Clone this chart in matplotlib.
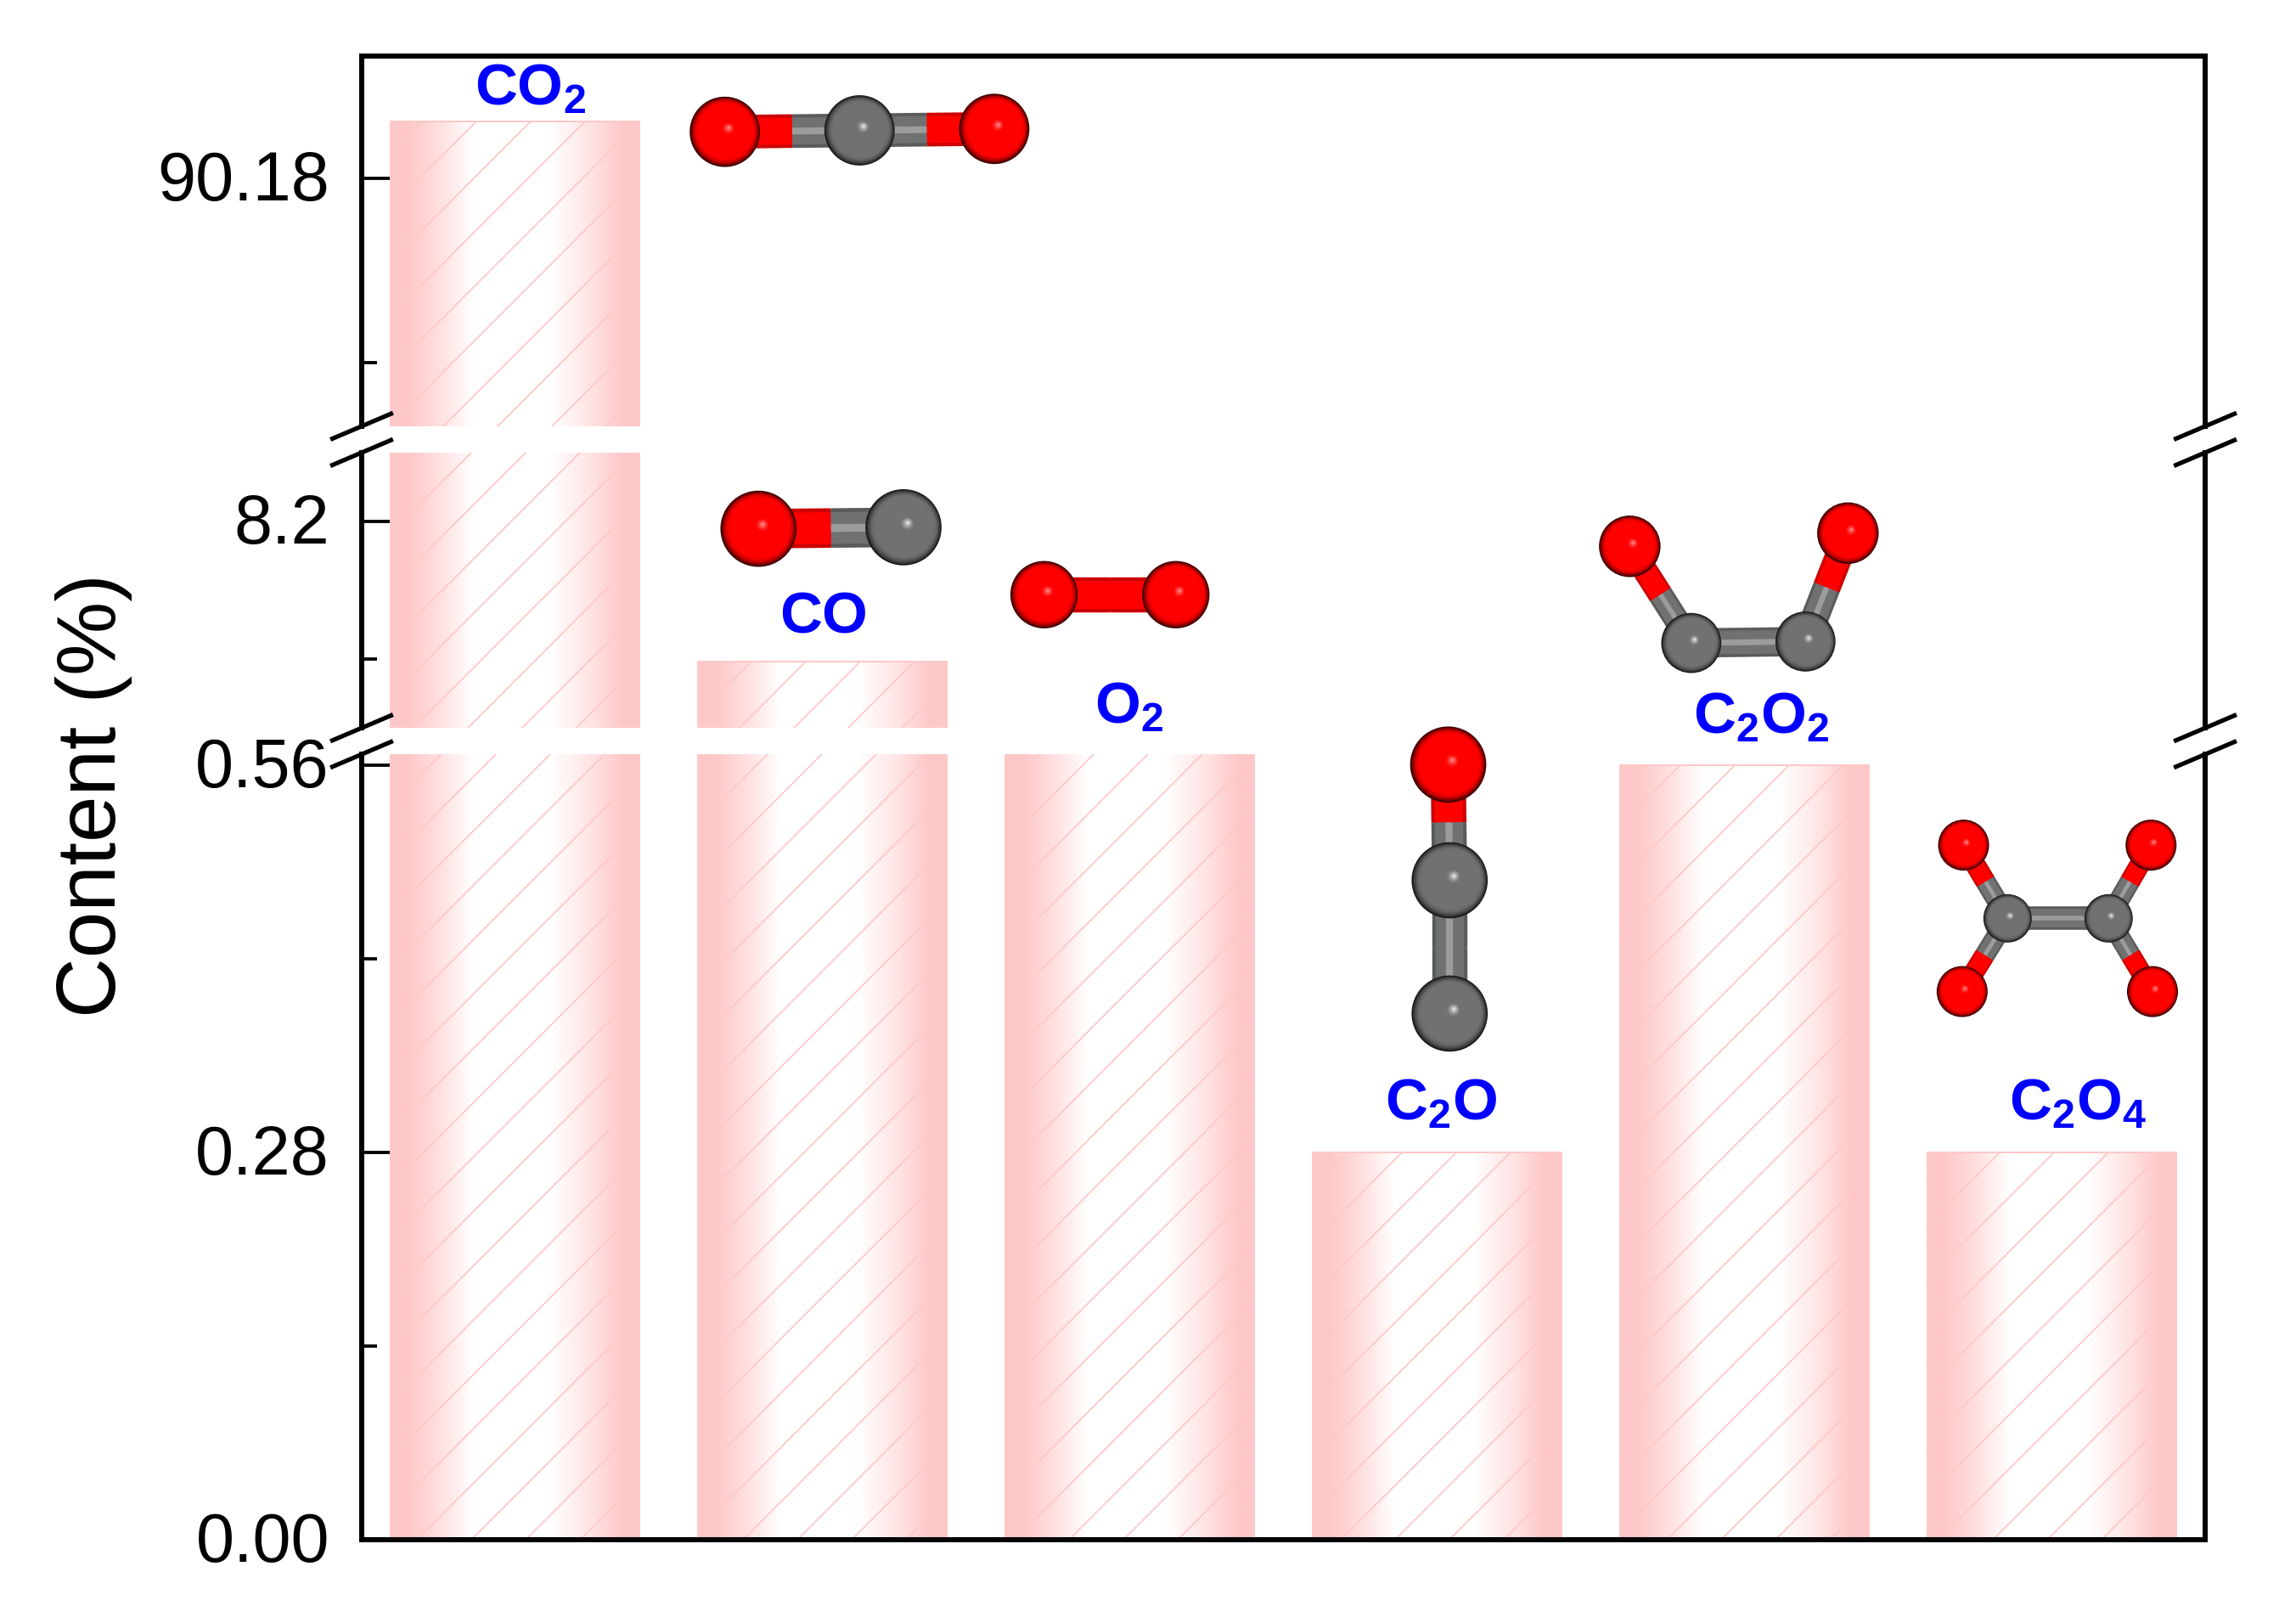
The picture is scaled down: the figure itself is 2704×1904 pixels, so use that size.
import numpy as np
import matplotlib
matplotlib.use("Agg")
import matplotlib.pyplot as plt
from matplotlib.colors import LinearSegmentedColormap, to_rgb
from matplotlib.patches import Ellipse
from matplotlib.transforms import ScaledTranslation

W, H, DPI = 2704, 1904, 384
PT = 288 / DPI  # sizes below were worked out at 288 dpi, hatch spacing needs 384

plt.rcParams["font.family"] = ["Liberation Sans", "DejaVu Sans"]
plt.rcParams["mathtext.fontset"] = "custom"
plt.rcParams["mathtext.bf"] = "Liberation Sans:bold"
plt.rcParams["mathtext.rm"] = "Liberation Sans"
plt.rcParams["hatch.linewidth"] = 0.45 * PT

# bar data
species = ["CO2", "CO", "O2", "C2O", "C2O2", "C2O4"]
content = [90.208, 8.098, 0.57, 0.28, 0.56, 0.28]
species_labels = [r"$\mathbf{CO_2}$", r"$\mathbf{CO}$", r"$\mathbf{O_2}$",
                  r"$\mathbf{C_2O}$", r"$\mathbf{C_2O_2}$", r"$\mathbf{C_2O_4}$"]

# axis segments, bottom to top
low_lim = (0.0, 0.568)
low_major = [0.0, 0.28, 0.56]
low_minor = [0.14, 0.42]
low_labels = ["0.00", "0.28", "0.56"]
mid_lim = (8.05, 8.25)
mid_major = [8.2]
mid_minor = [8.1]
mid_labels = ["8.2"]
top_lim = (90.059, 90.24)
top_major = [90.18]
top_minor = [90.09]
top_labels = ["90.18"]

PINK = "#ffc8c8"
BLUE = "#0000ff"
RED = "#ff0000"
GRAY = "#707272"

# layout, in pixels of the 1568 wide view
S = W / 1568
LEFT, RIGHT = 247, 1506
label_xy = [(362, 61), (562, 421), (771, 483), (984, 754), (1203, 490), (1419, 754)]

# molecules: atoms are (x, y, radius, colour), bonds are (a, b, width)
O, C = RED, GRAY
molecules = [
    ([(495, 90, 24, O), (587, 89, 24, C), (679, 88, 24, O)],
     [(0, 1, 23), (1, 2, 23)]),
    ([(518, 361, 26, O), (617, 360, 26, C)],
     [(0, 1, 27)]),
    ([(713, 406, 23, O), (803, 406, 23, O)],
     [(0, 1, 24)]),
    ([(989, 522, 26, O), (990, 601, 26, C), (990, 692, 26, C)],
     [(0, 1, 24), (1, 2, 24)]),
    ([(1113, 373, 21, O), (1155, 439, 20.5, C), (1233, 438, 20.5, C),
      (1262, 364, 21, O)],
     [(0, 1, 17), (1, 2, 20), (2, 3, 19)]),
    ([(1341, 577, 17.4, O), (1469, 577, 17.4, O), (1340, 677, 17.4, O),
      (1470, 677, 17.4, O), (1371, 627, 16.5, C), (1440, 627, 16.5, C)],
     [(0, 4, 14), (1, 5, 14), (2, 4, 14), (3, 5, 14), (4, 5, 16)]),
]

grad = LinearSegmentedColormap.from_list(
    "bar", [(0, PINK), (0.07, PINK), (0.2, "#ffe0e0"), (0.33, "#ffffff"), (0.64, "#ffffff"),
            (0.8, "#ffe4e4"), (0.93, PINK), (1, PINK)])
gradient = np.linspace(0, 1, 256).reshape(1, -1)


def px_axes(fig, y_top, y_bottom):
    return fig.add_axes([LEFT / 1568, 1 - y_bottom / 1104,
                         (RIGHT - LEFT) / 1568, (y_bottom - y_top) / 1104])


def draw_segment(fig, ax, lim, major, minor, labels):
    x = np.arange(len(content))
    bars = ax.bar(x, content, width=0.81, facecolor="none", edgecolor=PINK,
                  linewidth=0.5 * PT, hatch="//", zorder=2)
    for b in bars:
        ax.imshow(gradient, cmap=grad, aspect="auto", zorder=1,
                  extent=(b.get_x(), b.get_x() + b.get_width(), 0, b.get_height()))
    ax.set_xlim(-0.5, 5.5)
    ax.set_ylim(*lim)
    ax.set_xticks([])
    ax.set_yticks(major, labels, va="center")
    ax.set_yticks(minor, minor=True)
    ax.tick_params(axis="y", which="major", direction="in", length=8.5 * PT, width=0.95 * PT,
                   labelsize=20.3 * PT, pad=9.5 * PT)
    ax.tick_params(axis="y", which="minor", direction="in", length=4.5 * PT, width=0.95 * PT)
    nudge = ScaledTranslation(0, -1.3 * PT / 72, fig.dpi_scale_trans)
    for t in ax.get_yticklabels():
        t.set_transform(t.get_transform() + nudge)
    for s in ax.spines.values():
        s.set_linewidth(1.5 * PT)


def break_marks(ax, where):
    # short slanted strokes across both side spines
    trans = ax.get_yaxis_transform()
    y0, y1 = ax.get_ylim()
    dy = (y1 - y0) * 8.5 / (ax.get_position().height * 1104)
    yc = y1 if where == "top" else y0
    for xc in (0, 1):
        ax.plot([xc - 20 / (RIGHT - LEFT), xc + 20 / (RIGHT - LEFT)], [yc - dy, yc + dy],
                color="black", lw=1.3 * PT, transform=trans, clip_on=False, zorder=5)


def shade(colour, t):
    base = np.array(to_rgb(colour))
    if t > 0.78:
        return base * (1 - ((t - 0.78) / 0.22) ** 2 * 0.8)
    if t < 0.2:
        top = 0.65 if colour == RED else 1.0
        return base + (1 - base) * top * (1 - t / 0.2) ** 1.5
    return base


def draw_bond(ax, a, b, width):
    xa, ya, xb, yb = a[0], a[1], b[0], b[1]
    xm, ym = (xa + xb) / 2, (ya + yb) / 2
    for t in np.linspace(1, 0.1, 10):
        lw = width * t * 72 / DPI * S
        for (x0, y0, x1, y1, col) in ((xa, ya, xm, ym, a[3]), (xm, ym, xb, yb, b[3])):
            rgb = np.array(to_rgb(col))
            if t > 0.88:
                rgb = rgb * 0.8
            elif t < 0.22 and col == GRAY:
                rgb = rgb + (1 - rgb) * 0.3
            ax.plot([x0, x1], [y0, y1], color=rgb, lw=lw, solid_capstyle="butt", zorder=3)


def draw_atom(ax, atom):
    x, y, r, col = atom
    for t in np.linspace(1, 0.03, 40):
        ax.add_patch(Ellipse((x + 0.12 * r * (1 - t), y - 0.12 * r * (1 - t)),
                             2 * r * t, 2 * r * t, facecolor=shade(col, t),
                             edgecolor="none", zorder=4))


fig = plt.figure(figsize=(W / DPI, H / DPI), dpi=DPI, facecolor="white")

ax_low = px_axes(fig, 515, 1051)
ax_mid = px_axes(fig, 309, 497)
ax_top = px_axes(fig, 38, 291)

draw_segment(fig, ax_low, low_lim, low_major, low_minor, low_labels)
draw_segment(fig, ax_mid, mid_lim, mid_major, mid_minor, mid_labels)
draw_segment(fig, ax_top, top_lim, top_major, top_minor, top_labels)

ax_low.spines["top"].set_visible(False)
ax_mid.spines["top"].set_visible(False)
ax_mid.spines["bottom"].set_visible(False)
ax_top.spines["bottom"].set_visible(False)

break_marks(ax_low, "top")
break_marks(ax_mid, "bottom")
break_marks(ax_mid, "top")
break_marks(ax_top, "bottom")

fig.text(64 / 1568, 1 - 543 / 1104, "Content (%)", rotation=90, fontsize=24.5 * PT,
         ha="center", va="center")

# overlay for labels and molecule pictures
over = fig.add_axes([0, 0, 1, 1], facecolor="none", zorder=10)
over.set_xlim(0, 1568)
over.set_ylim(1104, 0)
over.axis("off")

for lab, (lx, ly) in zip(species_labels, label_xy):
    over.text(lx, ly, lab, color=BLUE, fontsize=17.3 * PT, ha="center", va="center")

for atoms, bonds in molecules:
    for i, j, width in bonds:
        draw_bond(over, atoms[i], atoms[j], width)
    for atom in atoms:
        draw_atom(over, atom)

fig.savefig("out.png", dpi=DPI)
plt.close(fig)
